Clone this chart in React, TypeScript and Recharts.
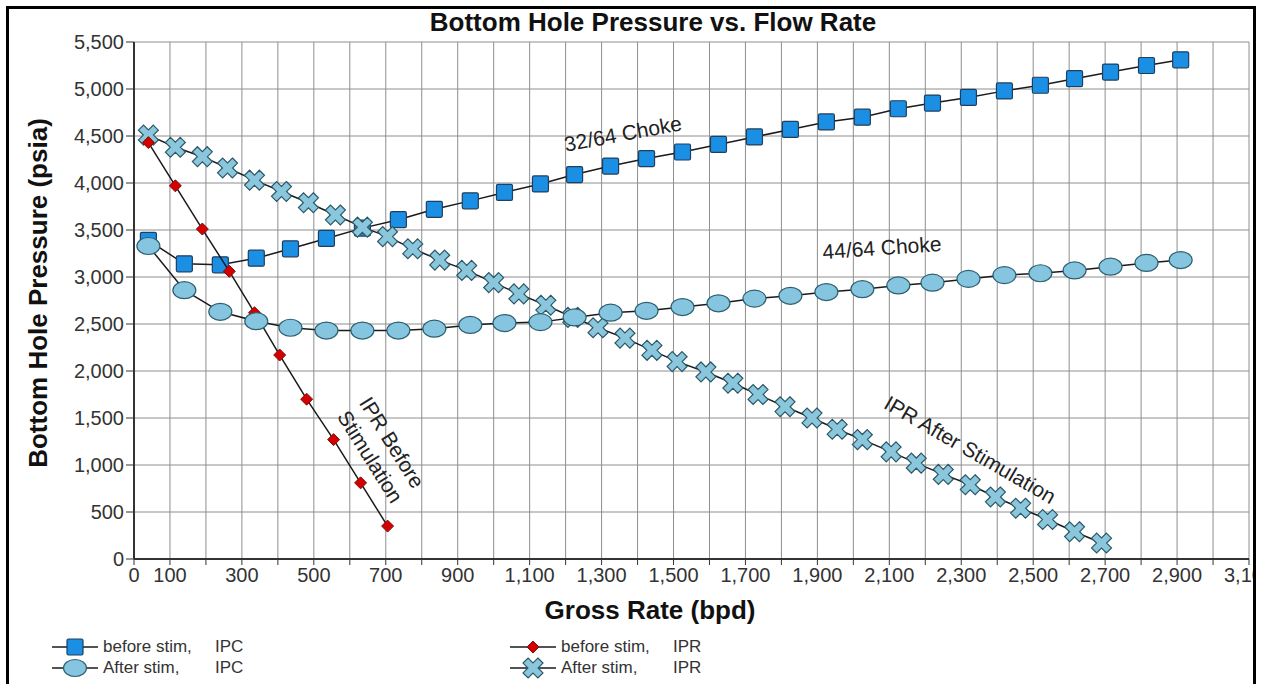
import React from "react";
import { CartesianGrid, Scatter, ScatterChart, XAxis, YAxis } from "recharts";

// Valores (caudal en bpd, presión en psia).
const ipcRate = [40, 140, 240, 340, 435, 535, 635, 735, 835, 935, 1030, 1130, 1225, 1325, 1425, 1525, 1625, 1725, 1825, 1925, 2025, 2125, 2220, 2320, 2420, 2520, 2615, 2715, 2815, 2910];
const ipcBeforeStim = [3390, 3140, 3130, 3200, 3300, 3410, 3520, 3610, 3720, 3810, 3900, 3990, 4090, 4180, 4260, 4330, 4410, 4490, 4570, 4650, 4700, 4790, 4850, 4910, 4980, 5040, 5110, 5180, 5250, 5310];
const ipcAfterStim = [3330, 2860, 2630, 2530, 2460, 2430, 2430, 2430, 2450, 2490, 2510, 2520, 2570, 2620, 2640, 2680, 2720, 2770, 2800, 2840, 2870, 2910, 2940, 2980, 3020, 3040, 3070, 3110, 3150, 3180];

const iprBeforeRate = [40, 115, 190, 265, 335, 405, 480, 555, 630, 705];
const iprBeforeStim = [4430, 3970, 3510, 3060, 2620, 2170, 1700, 1270, 810, 350];

const iprAfterRate = [40, 115, 190, 260, 335, 410, 485, 560, 635, 705, 775, 850, 925, 1000, 1070, 1145, 1220, 1290, 1365, 1440, 1510, 1590, 1665, 1735, 1810, 1885, 1955, 2025, 2105, 2175, 2250, 2325, 2395, 2465, 2540, 2615, 2690];
const iprAfterStim = [4510, 4380, 4280, 4160, 4030, 3910, 3790, 3660, 3530, 3430, 3300, 3180, 3070, 2940, 2820, 2700, 2570, 2460, 2350, 2220, 2100, 1990, 1870, 1750, 1620, 1500, 1380, 1270, 1140, 1020, 900, 790, 660, 540, 420, 290, 170];

const xGridTicks = Array.from({ length: 32 }, (_, i) => i * 100);
const xTickLabels = [0, 100, 300, 500, 700, 900, 1100, 1300, 1500, 1700, 1900, 2100, 2300, 2500, 2700, 2900, 3100];
const yTicks = [0, 500, 1000, 1500, 2000, 2500, 3000, 3500, 4000, 4500, 5000, 5500];

const legendLeft = [
  { name: "before stim,", kind: "IPC", marker: "square" },
  { name: "After stim,", kind: "IPC", marker: "ellipse" },
];
const legendRight = [
  { name: "before stim,", kind: "IPR", marker: "diamond" },
  { name: "After stim,", kind: "IPR", marker: "cross" },
];

const zip = (xs: number[], ys: number[]) => xs.map((x, i) => ({ x, y: ys[i] }));

const FONT = '"Liberation Sans", Arial, Helvetica, sans-serif';
const LINE = "#1a1a1a";
const fmt = new Intl.NumberFormat("en-US");

type DotProps = { cx?: number; cy?: number };

function SquareDot({ cx = 0, cy = 0 }: DotProps) {
  return (
    <rect x={cx - 8} y={cy - 8} width={16} height={16} rx={1.5}
      fill="#1b8fe4" stroke="#1f3f5e" strokeWidth={1.2} />
  );
}

function EllipseDot({ cx = 0, cy = 0 }: DotProps) {
  return (
    <ellipse cx={cx} cy={cy} rx={11.5} ry={8.5}
      fill="#86c5df" stroke="#2e5f6f" strokeWidth={1.2} />
  );
}

function DiamondDot({ cx = 0, cy = 0 }: DotProps) {
  const r = 6;
  return (
    <polygon points={`${cx},${cy - r} ${cx + r},${cy} ${cx},${cy + r} ${cx - r},${cy}`}
      fill="#d40000" stroke="#7a1010" strokeWidth={1} />
  );
}

function CrossDot({ cx = 0, cy = 0 }: DotProps) {
  const a = 10.5;
  const w = 3.6;
  const pts = [
    [-w, -a], [w, -a], [w, -w], [a, -w], [a, w], [w, w],
    [w, a], [-w, a], [-w, w], [-a, w], [-a, -w], [-w, -w],
  ].map(([px, py]) => `${px},${py}`).join(" ");
  return (
    <polygon points={pts} transform={`translate(${cx},${cy}) rotate(45)`}
      fill="#8ac6dc" stroke="#2c5866" strokeWidth={1.2} />
  );
}

const markers: Record<string, (p: DotProps) => React.ReactElement> = {
  square: SquareDot,
  ellipse: EllipseDot,
  diamond: DiamondDot,
  cross: CrossDot,
};

function LegendRow({ name, kind, marker, left, top }: { name: string; kind: string; marker: string; left: number; top: number }) {
  const Mark = markers[marker];
  return (
    <div style={{ position: "absolute", left, top: top - 11, height: 22, display: "flex", alignItems: "center", fontSize: 17, color: "#333" }}>
      <svg width={48} height={22}>
        <line x1={0} y1={11} x2={46} y2={11} stroke={LINE} strokeWidth={1.5} />
        <Mark cx={23} cy={11} />
      </svg>
      <span style={{ display: "inline-block", width: 112, marginLeft: 3 }}>{name}</span>
      <span>{kind}</span>
    </div>
  );
}

function Note({ text, x, y, angle }: { text: string; x: number; y: number; angle: number }) {
  return (
    <div style={{
      position: "absolute", left: x, top: y, transform: `translate(-50%, -50%) rotate(${angle}deg)`,
      fontSize: 21, lineHeight: "26px", color: "#222", whiteSpace: "pre", textAlign: "left",
    }}>{text}</div>
  );
}

export default function App() {
  return (
    <div style={{ position: "absolute", left: 0, top: 0, width: 1262, height: 684, overflow: "hidden", background: "#fff", fontFamily: FONT }}>
      <div style={{ position: "absolute", left: 6, top: 6, width: 1250, height: 720, border: "3px solid #000", boxSizing: "border-box", overflow: "hidden" }}>
        <div style={{ position: "absolute", left: -9, top: -9, width: 1262, height: 684 }}>
          <ScatterChart width={1262} height={684} margin={{ top: 42, right: 13, bottom: 95, left: 0 }}>
            <CartesianGrid stroke="#8e8e8e" strokeWidth={1} />
            <XAxis type="number" dataKey="x" domain={[0, 3100]} ticks={xGridTicks} interval={0}
              tickFormatter={(v: number) => (xTickLabels.includes(v) ? fmt.format(v) : "")}
              height={30} tickSize={6} tickMargin={3}
              axisLine={{ stroke: "#333", strokeWidth: 2 }} tickLine={{ stroke: "#333" }}
              tick={{ fill: "#333", fontSize: 20, fontFamily: FONT }} />
            <YAxis type="number" dataKey="y" domain={[0, 5500]} ticks={yTicks} interval={0}
              tickFormatter={(v: number) => fmt.format(v)}
              width={134} tickSize={8} tickMargin={2}
              axisLine={{ stroke: "#333", strokeWidth: 2 }} tickLine={{ stroke: "#333" }}
              tick={{ fill: "#333", fontSize: 20, fontFamily: FONT }} />
            <Scatter name="before stim, IPC" data={zip(ipcRate, ipcBeforeStim)} fill="#1b8fe4"
              line={{ stroke: LINE, strokeWidth: 1.5 }} shape={(p: DotProps) => <SquareDot {...p} />} isAnimationActive={false} />
            <Scatter name="After stim, IPR" data={zip(iprAfterRate, iprAfterStim)} fill="#8ac6dc"
              line={{ stroke: LINE, strokeWidth: 1.5 }} shape={(p: DotProps) => <CrossDot {...p} />} isAnimationActive={false} />
            <Scatter name="before stim, IPR" data={zip(iprBeforeRate, iprBeforeStim)} fill="#d40000"
              line={{ stroke: LINE, strokeWidth: 1.5 }} shape={(p: DotProps) => <DiamondDot {...p} />} isAnimationActive={false} />
            <Scatter name="After stim, IPC" data={zip(ipcRate, ipcAfterStim)} fill="#86c5df"
              line={{ stroke: LINE, strokeWidth: 1.5 }} shape={(p: DotProps) => <EllipseDot {...p} />} isAnimationActive={false} />
          </ScatterChart>

          <div style={{ position: "absolute", left: 653, top: 22, transform: "translate(-50%, -50%)", fontSize: 26, lineHeight: "26px", fontWeight: "bold", color: "#111", whiteSpace: "nowrap" }}>
            Bottom Hole Pressure vs. Flow Rate
          </div>
          <div style={{ position: "absolute", left: 650, top: 610, transform: "translate(-50%, -50%)", fontSize: 26, lineHeight: "26px", fontWeight: "bold", color: "#111", whiteSpace: "nowrap" }}>
            Gross Rate (bpd)
          </div>
          <div style={{ position: "absolute", left: 38, top: 293, transform: "translate(-50%, -50%) rotate(-90deg)", fontSize: 26, lineHeight: "26px", fontWeight: "bold", color: "#111", whiteSpace: "nowrap" }}>
            Bottom Hole Pressure (psia)
          </div>

          <Note text="32/64 Choke" x={623} y={134} angle={-10.5} />
          <Note text="44/64 Choke" x={882} y={248} angle={-4} />
          <Note text={"IPR Before\nStimulation"} x={381} y={450} angle={58} />
          <Note text="IPR After Stimulation" x={970} y={450} angle={30} />

          {legendLeft.map((e, i) => (
            <LegendRow key={e.marker} {...e} left={52} top={647 + i * 21} />
          ))}
          {legendRight.map((e, i) => (
            <LegendRow key={e.marker} {...e} left={510} top={647 + i * 21} />
          ))}
        </div>
      </div>
    </div>
  );
}
